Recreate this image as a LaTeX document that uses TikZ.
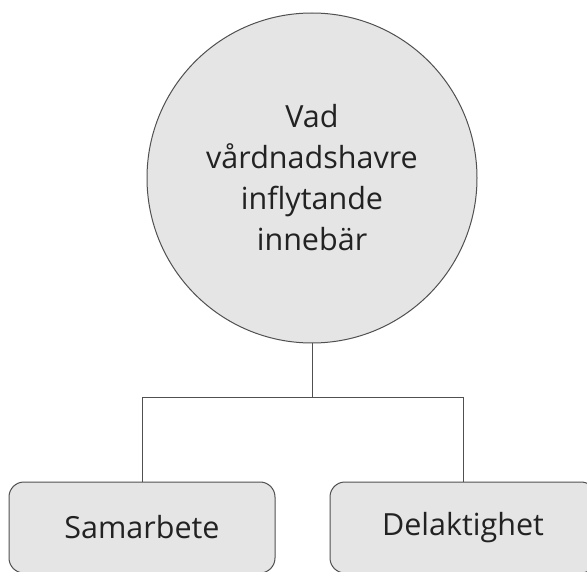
\documentclass[tikz,border=0pt]{standalone}
\usepackage{fontspec}
\setmainfont{Open Sans}
\definecolor{boxfill}{HTML}{E5E5E5}
\definecolor{boxline}{HTML}{505050}
\definecolor{txt}{HTML}{222222}
\begin{document}
\begin{tikzpicture}[x=1pt, y=-1pt, line width=1pt,
  topic/.style = {draw=boxline, fill=boxfill, circle, minimum size=330pt, inner sep=0pt, align=center, text=txt, font=\fontsize{30.5}{41}\selectfont},
  part/.style = {draw=boxline, fill=boxfill, rectangle, rounded corners=15pt, minimum width=266pt, minimum height=91pt, text=txt, font=\fontsize{30.5}{41}\selectfont}]
\useasboundingbox (0,0) rectangle (587,572);
\clip (0,0) rectangle (587,572);
\node[topic] (q) at (312,178) {Vad\\vårdnadshavre\\inflytande\\innebär};
\node[part] (s) at (142,527.5) {Samarbete};
\node[part] (d) at (463,527.5) {Delaktighet};
\coordinate (split) at (312,397);
\draw[boxline] (q.south) -- (split);
\draw[boxline] (split) -| (s.north);
\draw[boxline] (split) -| (d.north);
\end{tikzpicture}
\end{document}
